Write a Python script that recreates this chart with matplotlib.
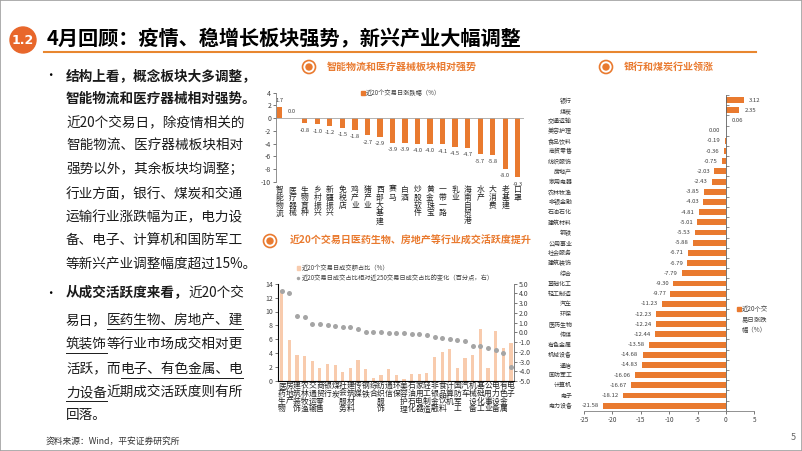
import numpy as np
import matplotlib
matplotlib.use('Agg')
import matplotlib.pyplot as plt
from matplotlib.patches import Ellipse, Rectangle
from matplotlib.lines import Line2D

plt.rcParams['font.family'] = ['Noto Sans CJK SC', 'DejaVu Sans']
plt.rcParams['axes.unicode_minus'] = False

W, H = 802, 451
ORANGE = '#E97A2F'
PEACH = '#F8CBAD'
GRAY = '#A5A5A5'
TXT = '#404040'

# ---- data ----
concept_names = ['智能物流', '医疗器械', '生物育种', '乡村振兴', '新疆振兴', '免税店', '鸡产业',
                 '猪产业', '西部大基建', '赛马', '白酒', '炒股软件', '黄金珠宝', '一带一路', '乳业',
                 '海南自贸港', '水产', '大消费', '老基建', '口罩']
concept_chg = [1.7, 0.0, -0.8, -1.0, -1.2, -1.5, -1.8, -2.7, -2.9, -3.9, -3.9, -4.0, -4.0,
               -4.1, -4.5, -4.7, -5.7, -5.8, -8.0, -9.3]

turnover_names = ['医药生物', '房地产', '建筑装饰', '农林牧渔', '交通运输', '商贸零售', '银行', '煤炭',
                  '社会服务', '建筑材料', '传媒', '钢铁', '综合', '纺织服饰', '通信', '环保', '美容护理',
                  '石油石化', '家用电器', '轻工制造', '非银金融', '食品饮料', '计算机', '国防军工', '汽车',
                  '机械设备', '基础化工', '公用事业', '电力设备', '有色金属', '电子']
turnover_share = [13.1, 5.9, 3.8, 3.6, 2.9, 1.9, 2.4, 2.3, 1.3, 1.8, 3.05, 1.7, 0.4, 0.8, 1.7,
                  0.8, 0.3, 1.0, 1.0, 1.15, 3.5, 4.2, 4.65, 1.9, 3.25, 3.8, 7.5, 1.9, 7.2, 4.8, 5.4]
share_change = [4.3, 4.0, 1.7, 1.6, 0.9, 0.9, 0.75, 0.65, 0.6, 0.5, 0.3, 0.05, 0.0, 0.0, -0.05,
                -0.1, -0.1, -0.15, -0.2, -0.3, -0.45, -0.55, -0.65, -0.8, -0.9, -1.4, -1.4, -1.6,
                -1.8, -2.1, -3.6]

industry_names = ['银行', '煤炭', '交通运输', '美容护理', '食品饮料', '商贸零售', '纺织服饰', '房地产',
                  '家用电器', '农林牧渔', '非银金融', '石油石化', '建筑材料', '钢铁', '公用事业',
                  '社会服务', '建筑装饰', '综合', '基础化工', '轻工制造', '汽车', '环保', '医药生物',
                  '传媒', '有色金属', '机械设备', '通信', '国防军工', '计算机', '电子', '电力设备']
industry_chg = [3.12, 2.35, 0.06, 0.00, -0.19, -0.36, -0.75, -2.03, -2.43, -3.85, -4.03, -4.81,
                -5.01, -5.53, -5.88, -6.71, -6.79, -7.79, -9.30, -9.77, -11.23, -12.23, -12.24,
                -12.44, -13.58, -14.68, -14.83, -16.06, -16.67, -18.12, -21.58]


def fx(x):
    return x / W


def fy(y):
    return 1 - y / H


def box(l, t, r, b):
    return [fx(l), fy(b), (r - l) / W, (b - t) / H]


fig = plt.figure(figsize=(W / 100, H / 100), dpi=100)
fig.patch.set_facecolor('white')
fig.add_artist(Rectangle((0, 0), 1, 1, fill=False, edgecolor='#A0A0A0', lw=1.2,
                         transform=fig.transFigure))

# ---- header ----
fig.add_artist(Ellipse((fx(23), fy(40)), 26 / W, 26 / H, color='#E8672B', transform=fig.transFigure))
fig.text(fx(23), fy(40), '1.2', color='white', fontsize=9, fontweight='bold', ha='center', va='center',
         family=['DejaVu Sans'])
fig.text(fx(47), fy(39), '4月回顾：疫情、稳增长板块强势，新兴产业大幅调整', fontsize=14.5,
         fontweight='bold', ha='left', va='center', color='black')
fig.add_artist(Line2D([fx(44), fx(756)], [fy(52), fy(52)], color='#E8872F', lw=1.5,
                      transform=fig.transFigure))


def title_icon(x, y, text, tx):
    fig.add_artist(Ellipse((fx(x), fy(y)), 13 / W, 13 / H, facecolor='white', edgecolor=ORANGE,
                           lw=1.2, transform=fig.transFigure))
    fig.add_artist(Ellipse((fx(x), fy(y)), 6 / W, 6 / H, color=ORANGE, transform=fig.transFigure))
    fig.text(fx(tx), fy(y), text, color=ORANGE, fontsize=7.2, fontweight='bold', ha='left', va='center')


title_icon(309, 67, '智能物流和医疗器械板块相对强势', 327)
title_icon(270, 241, '近20个交易日医药生物、房地产等行业成交活跃度提升', 290)
title_icon(606, 67, '银行和煤炭行业领涨', 624)

# ---- left text ----
renderer = fig.canvas.get_renderer()


def text_line(x, y, runs, fs=9.8):
    cx = x
    for txt, bold, ul in runs:
        t = fig.text(fx(cx), fy(y), txt, fontsize=fs, fontweight='bold' if bold else 'normal',
                     ha='left', va='center', color='#1A1A1A')
        bb = t.get_window_extent(renderer)
        if ul:
            fig.add_artist(Line2D([bb.x0 / W, bb.x1 / W], [fy(y + 8.5)] * 2, color='#1A1A1A', lw=0.7,
                                  transform=fig.transFigure))
        cx = bb.x1


fig.text(fx(50), fy(76), '•', fontsize=9, ha='center', va='center')
fig.text(fx(50), fy(293), '•', fontsize=9, ha='center', va='center')
lines = [
    (76, [('结构上看，概念板块大多调整，', True, False)]),
    (99, [('智能物流和医疗器械相对强势。', True, False)]),
    (122, [('近20个交易日，除疫情相关的', False, False)]),
    (145, [('智能物流、医疗器械板块相对', False, False)]),
    (169, [('强势以外，其余板块均调整；', False, False)]),
    (193, [('行业方面，银行、煤炭和交通', False, False)]),
    (217, [('运输行业涨跌幅为正，电力设', False, False)]),
    (240, [('备、电子、计算机和国防军工', False, False)]),
    (264, [('等新兴产业调整幅度超过15%。', False, False)]),
    (293, [('从成交活跃度来看，', True, False), ('近20个交', False, False)]),
    (320, [('易日，', False, False), ('医药生物、房地产、建', False, True)]),
    (344, [('筑装饰', False, True), ('等行业市场成交相对更', False, False)]),
    (369, [('活跃，而', False, False), ('电子、有色金属、电', False, True)]),
    (392, [('力设备', False, True), ('近期成交活跃度则有所', False, False)]),
    (415, [('回落。', False, False)]),
]
for y, runs in lines:
    text_line(66, y, runs)

fig.text(fx(46), fy(441), '资料来源：Wind，平安证券研究所', fontsize=6.3, color='#333333', ha='left', va='center')
fig.text(fx(793), fy(438), '5', fontsize=6.5, color='#666666', ha='center', va='center')


def vlabels(ax, names, top_px, step_px, fs):
    # one character per row, below the axes; x taken from the data transform
    for i, name in enumerate(names):
        xd = ax.transData.transform((i, 0))[0]
        for k, ch in enumerate(name):
            fig.text(xd / W, fy(top_px + k * step_px), ch, ha='center', va='center',
                     fontsize=fs, color='#222222')


# ---- top chart: concept sectors ----
ax1 = fig.add_axes(box(276, 92.7, 524, 181.7))
x1 = np.arange(len(concept_names))
ax1.bar(x1, concept_chg, width=0.42, color=ORANGE)
ax1.axhline(0, color='#A6A6A6', lw=0.6)
ax1.set_ylim(-10, 4)
ax1.set_xlim(-0.3, len(concept_names) - 0.5)
ax1.set_yticks(np.arange(-10, 5, 2))
ax1.tick_params(axis='y', labelsize=5, colors=TXT, length=2, width=0.5, pad=1.5)
ax1.set_xticks([])
for s in ['top', 'right', 'bottom']:
    ax1.spines[s].set_visible(False)
ax1.spines['left'].set_color('#808080')
ax1.spines['left'].set_linewidth(0.6)
for xi, v in zip(x1, concept_chg):
    off = 5 if v >= 0 else -5
    ax1.annotate(f'{v:.1f}', xy=(xi, v), xytext=(0, off), textcoords='offset points',
                 ha='center', va='center', fontsize=4.2, color=TXT)
vlabels(ax1, concept_names, 190, 7.8, 5.6)
fig.add_artist(Rectangle((fx(360.5), fy(95)), 4 / W, 4 / H, color=ORANGE, transform=fig.transFigure))
fig.text(fx(366), fy(92.7), '近20个交易日涨跌幅（%）', fontsize=4.5, color=TXT, ha='left', va='center')

# ---- bottom chart: turnover ----
ax2 = fig.add_axes(box(277.7, 283.7, 514, 381))
x2 = np.arange(len(turnover_names))
ax2.bar(x2, turnover_share, width=0.42, color=PEACH)
ax2.set_ylim(0, 14)
ax2.set_yticks(np.arange(0, 15, 2))
ax2.set_xlim(-0.52, len(turnover_names) - 0.6)
ax2.set_xticks([])
ax2.tick_params(axis='y', labelsize=5, colors=TXT, length=2, width=0.5, pad=1.5)
ax2.spines['top'].set_visible(False)
for s in ['left', 'right', 'bottom']:
    ax2.spines[s].set_color('#808080')
    ax2.spines[s].set_linewidth(0.6)
ax2b = ax2.twinx()
ax2b.plot(x2, share_change, 'o', color=GRAY, ms=3.6, mec='none')
ax2b.set_ylim(-5, 5)
ax2b.set_yticks(np.arange(-5, 6, 1))
ax2b.set_yticklabels([f'{v:.1f}' for v in np.arange(-5, 6, 1)])
ax2b.tick_params(axis='y', labelsize=5, colors=TXT, length=2, width=0.5, pad=1.5)
ax2b.spines['top'].set_visible(False)
ax2b.spines['right'].set_color('#808080')
ax2b.spines['right'].set_linewidth(0.6)
vlabels(ax2, turnover_names, 386, 7.8, 5.6)
fig.add_artist(Rectangle((fx(296.5), fy(269.5)), 3.5 / W, 3.5 / H, color=PEACH, transform=fig.transFigure))
fig.text(fx(302), fy(267.7), '近20个交易日成交额占比（%）', fontsize=4.5, color=TXT, ha='left', va='center')
fig.add_artist(Line2D([fx(298.3)], [fy(278.3)], marker='o', ms=2.5, color=GRAY, mec='none',
                      transform=fig.transFigure))
fig.text(fx(302), fy(278.3), '近20交易日成交占比相对近250交易日成交占比的变化（百分点，右）',
         fontsize=4.5, color=TXT, ha='left', va='center')

# ---- right chart: industries ----
ax3 = fig.add_axes(box(584, 95, 754.3, 410.8))
y3 = np.arange(len(industry_names))
ax3.barh(y3, industry_chg, height=0.58, color=ORANGE)
ax3.set_xlim(-25, 5)
ax3.set_ylim(len(industry_names) - 0.5, -0.5)
ax3.set_xticks(np.arange(-25, 6, 5))
ax3.set_yticks(y3)
ax3.set_yticklabels(industry_names)
ax3.set_yticks(np.arange(-0.5, len(industry_names), 1), minor=True)
ax3.tick_params(axis='y', which='major', left=False, right=False, labelsize=4.3, colors='#333333', pad=5)
ax3.tick_params(axis='y', which='minor', left=False, right=True, length=1.8, width=0.5, color='#606060')
ax3.tick_params(axis='x', labelsize=4.6, colors=TXT, length=2, width=0.5, pad=2)
ax3.spines['top'].set_visible(False)
ax3.spines['left'].set_visible(False)
ax3.spines['right'].set_position(('data', 0))
ax3.spines['right'].set_color('#606060')
ax3.spines['right'].set_linewidth(0.6)
ax3.spines['bottom'].set_color('#808080')
ax3.spines['bottom'].set_linewidth(0.6)
for yi, v in zip(y3, industry_chg):
    if v > 0:
        ax3.annotate(f'{v:.2f}', xy=(v, yi), xytext=(4, 0), textcoords='offset points',
                     ha='left', va='center', fontsize=4.3, color=TXT)
    else:
        ax3.annotate(f'{v:.2f}', xy=(min(v, -0.3), yi), xytext=(-3, 0), textcoords='offset points',
                     ha='right', va='center', fontsize=4.3, color=TXT)
fig.add_artist(Rectangle((fx(736.5), fy(311)), 4 / W, 4 / H, color=ORANGE, transform=fig.transFigure))
for i, s in enumerate(['近20个交', '易日涨跌', '幅（%）']):
    fig.text(fx(741.5), fy(309 + i * 10.5), s, fontsize=4.6, color=TXT, ha='left', va='center')

fig.savefig('out.png', dpi=100)
